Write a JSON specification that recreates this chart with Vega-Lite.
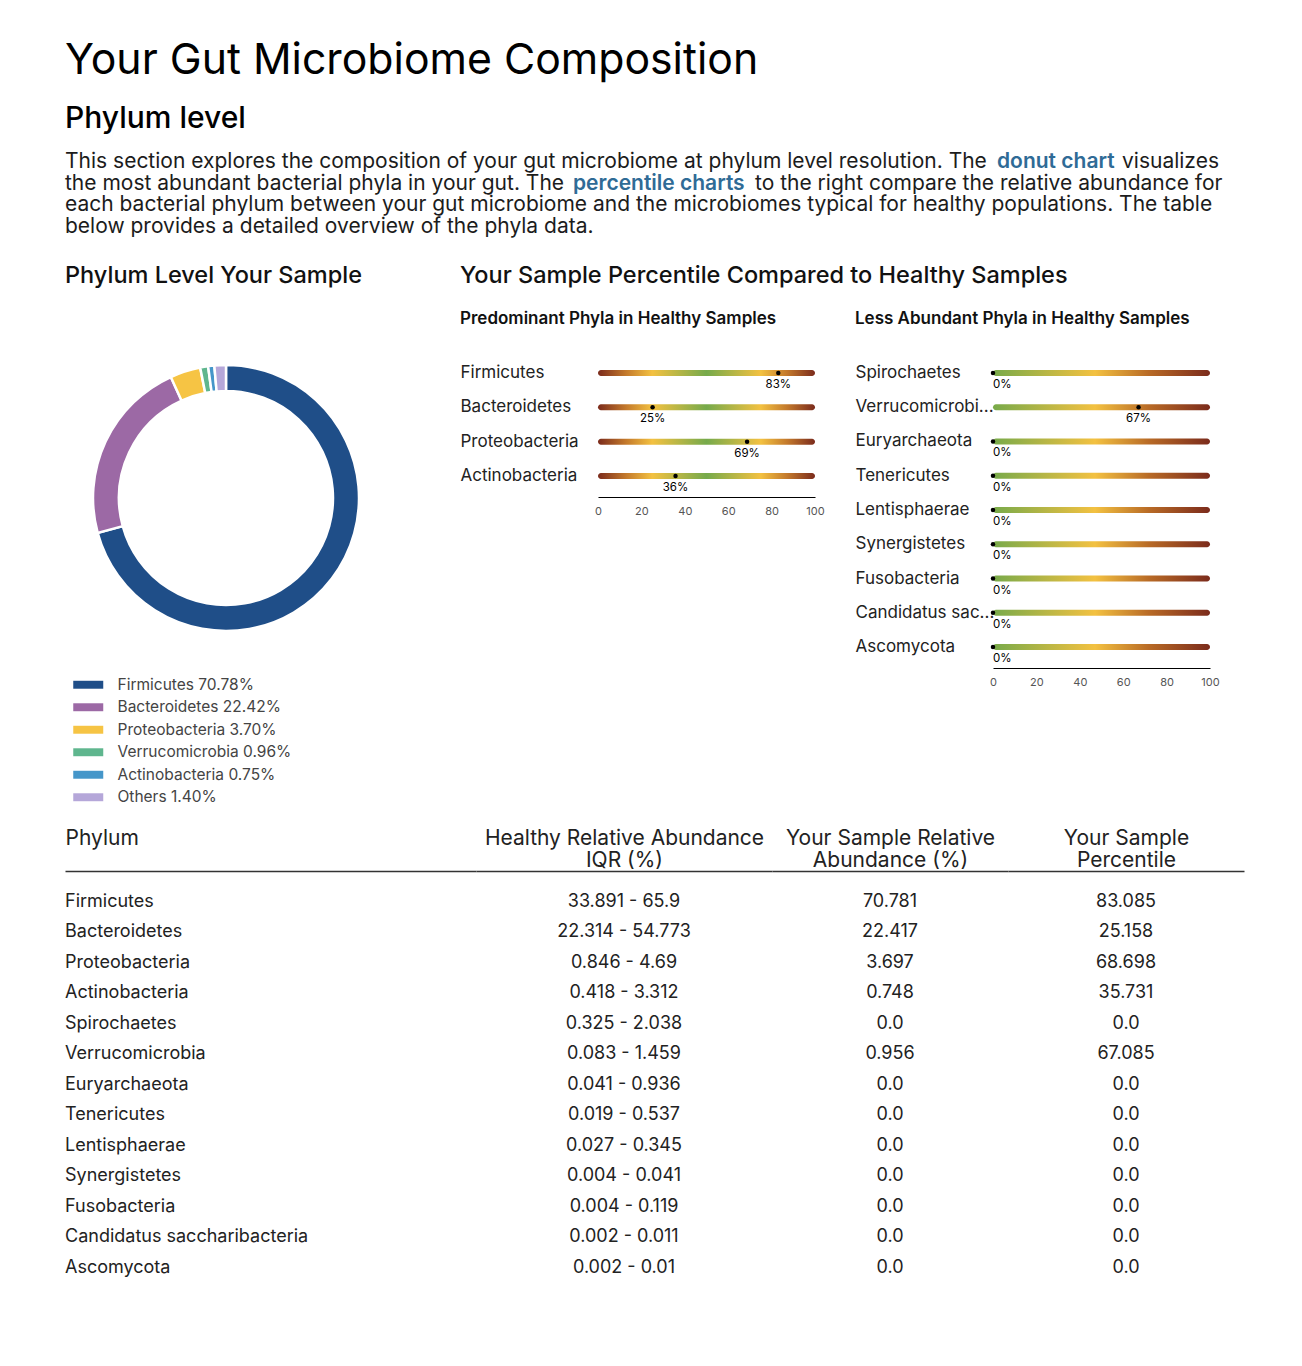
{
  "$schema": "https://vega.github.io/schema/vega-lite/v6.json",
  "background": "white",
  "padding": {"left": 65, "top": 40, "right": 20, "bottom": 20},
  "title": {
    "text": "Your Gut Microbiome Composition",
    "subtitle": "Phylum level",
    "anchor": "start",
    "frame": "bounds",
    "fontSize": 42.75,
    "fontWeight": 400,
    "color": "#000000",
    "subtitleFontSize": 30,
    "subtitleFontWeight": 500,
    "subtitleColor": "#000000",
    "subtitlePadding": 21,
    "offset": 17
  },
  "datasets": {
    "paragraph": [
      {"line": 1, "part": "a", "text": "This section explores the composition of your gut microbiome at phylum level resolution. The"},
      {"line": 1, "part": "b", "text": "donut chart"},
      {"line": 1, "part": "c", "text": "visualizes"},
      {"line": 2, "part": "a", "text": "the most abundant bacterial phyla in your gut. The"},
      {"line": 2, "part": "b", "text": "percentile charts"},
      {"line": 2, "part": "c", "text": "to the right compare the relative abundance for"},
      {"line": 3, "part": "a", "text": "each bacterial phylum between your gut microbiome and the microbiomes typical for healthy populations. The table"},
      {"line": 4, "part": "a", "text": "below provides a detailed overview of the phyla data."}
    ],
    "composition": [
      {"phylum": "Firmicutes", "share": 70.78, "label": "Firmicutes 70.78%"},
      {"phylum": "Bacteroidetes", "share": 22.42, "label": "Bacteroidetes 22.42%"},
      {"phylum": "Proteobacteria", "share": 3.70, "label": "Proteobacteria 3.70%"},
      {"phylum": "Verrucomicrobia", "share": 0.96, "label": "Verrucomicrobia 0.96%"},
      {"phylum": "Actinobacteria", "share": 0.75, "label": "Actinobacteria 0.75%"},
      {"phylum": "Others", "share": 1.40, "label": "Others 1.40%"}
    ],
    "predominant": [
      {"phylum": "Firmicutes", "pct": 83.085},
      {"phylum": "Bacteroidetes", "pct": 25.158},
      {"phylum": "Proteobacteria", "pct": 68.698},
      {"phylum": "Actinobacteria", "pct": 35.731}
    ],
    "less": [
      {"phylum": "Spirochaetes", "pct": 0},
      {"phylum": "Verrucomicrobia", "pct": 67.085},
      {"phylum": "Euryarchaeota", "pct": 0},
      {"phylum": "Tenericutes", "pct": 0},
      {"phylum": "Lentisphaerae", "pct": 0},
      {"phylum": "Synergistetes", "pct": 0},
      {"phylum": "Fusobacteria", "pct": 0},
      {"phylum": "Candidatus saccharibacteria", "pct": 0},
      {"phylum": "Ascomycota", "pct": 0}
    ],
    "table": [
      {"Phylum": "Firmicutes", "IQR": "33.891 - 65.9", "Abundance": "70.781", "Percentile": "83.085"},
      {"Phylum": "Bacteroidetes", "IQR": "22.314 - 54.773", "Abundance": "22.417", "Percentile": "25.158"},
      {"Phylum": "Proteobacteria", "IQR": "0.846 - 4.69", "Abundance": "3.697", "Percentile": "68.698"},
      {"Phylum": "Actinobacteria", "IQR": "0.418 - 3.312", "Abundance": "0.748", "Percentile": "35.731"},
      {"Phylum": "Spirochaetes", "IQR": "0.325 - 2.038", "Abundance": "0.0", "Percentile": "0.0"},
      {"Phylum": "Verrucomicrobia", "IQR": "0.083 - 1.459", "Abundance": "0.956", "Percentile": "67.085"},
      {"Phylum": "Euryarchaeota", "IQR": "0.041 - 0.936", "Abundance": "0.0", "Percentile": "0.0"},
      {"Phylum": "Tenericutes", "IQR": "0.019 - 0.537", "Abundance": "0.0", "Percentile": "0.0"},
      {"Phylum": "Lentisphaerae", "IQR": "0.027 - 0.345", "Abundance": "0.0", "Percentile": "0.0"},
      {"Phylum": "Synergistetes", "IQR": "0.004 - 0.041", "Abundance": "0.0", "Percentile": "0.0"},
      {"Phylum": "Fusobacteria", "IQR": "0.004 - 0.119", "Abundance": "0.0", "Percentile": "0.0"},
      {"Phylum": "Candidatus saccharibacteria", "IQR": "0.002 - 0.011", "Abundance": "0.0", "Percentile": "0.0"},
      {"Phylum": "Ascomycota", "IQR": "0.002 - 0.01", "Abundance": "0.0", "Percentile": "0.0"}
    ]
  },
  "spacing": 21,
  "resolve": {"scale": {"color": "independent"}, "legend": {"color": "independent"}},
  "vconcat": [
    {
      "width": 1170,
      "height": 79.5,
      "data": {"name": "paragraph"},
      "encoding": {
        "y": {"field": "line", "type": "ordinal", "scale": {"type": "point", "padding": 0.334, "align": 0}, "axis": null}
      },
      "layer": [
        {
          "transform": [{"filter": "datum.part == 'a'"}],
          "mark": {"type": "text", "align": "left", "baseline": "middle", "fontSize": 21, "color": "#1c1c1c", "x": 0},
          "encoding": {"text": {"field": "text"}}
        },
        {
          "transform": [{"filter": "datum.line == 1 && datum.part == 'b'"}],
          "mark": {"type": "text", "align": "left", "baseline": "middle", "fontSize": 21, "fontWeight": 600, "color": "#2f6b96", "x": 932},
          "encoding": {"text": {"field": "text"}}
        },
        {
          "transform": [{"filter": "datum.line == 1 && datum.part == 'c'"}],
          "mark": {"type": "text", "align": "left", "baseline": "middle", "fontSize": 21, "color": "#1c1c1c", "x": 1057},
          "encoding": {"text": {"field": "text"}}
        },
        {
          "transform": [{"filter": "datum.line == 2 && datum.part == 'b'"}],
          "mark": {"type": "text", "align": "left", "baseline": "middle", "fontSize": 21, "fontWeight": 600, "color": "#2f6b96", "x": 508},
          "encoding": {"text": {"field": "text"}}
        },
        {
          "transform": [{"filter": "datum.line == 2 && datum.part == 'c'"}],
          "mark": {"type": "text", "align": "left", "baseline": "middle", "fontSize": 21, "color": "#1c1c1c", "x": 690},
          "encoding": {"text": {"field": "text"}}
        }
      ]
    },
    {
      "spacing": 73,
      "resolve": {"scale": {"color": "independent"}, "legend": {"color": "independent"}},
      "hconcat": [
        {
          "title": {"text": "Phylum Level Your Sample", "anchor": "start", "frame": "bounds", "fontSize": 23.5, "fontWeight": 500, "offset": 65, "color": "#111111"},
          "width": 322,
          "height": 292,
          "data": {"name": "composition"},
          "transform": [{"window": [{"op": "row_number", "as": "idx"}]}],
          "mark": {"type": "arc", "radius": 133, "radius2": 107, "stroke": "#ffffff", "strokeWidth": 2.5},
          "encoding": {
            "theta": {"field": "share", "type": "quantitative", "stack": true},
            "order": {"field": "idx", "type": "quantitative"},
            "color": {
              "field": "label",
              "type": "nominal",
              "sort": null,
              "scale": {
                "domain": ["Firmicutes 70.78%", "Bacteroidetes 22.42%", "Proteobacteria 3.70%", "Verrucomicrobia 0.96%", "Actinobacteria 0.75%", "Others 1.40%"],
                "range": ["#1f4e88", "#9c69a5", "#f6c444", "#5fb68e", "#4596c9", "#b5a7d9"]
              },
              "legend": {
                "orient": "none",
                "legendX": 15.5,
                "legendY": 325,
                "direction": "vertical",
                "title": null,
                "symbolType": "M-2,-0.53H2V0.53H-2Z",
                "symbolSize": 225,
                "symbolStrokeWidth": 0,
                "symbolOpacity": 1,
                "labelFontSize": 15.5,
                "labelColor": "#444444",
                "labelOffset": 21.5,
                "rowPadding": 5.5,
                "padding": 0,
                "labelLimit": 300
              }
            }
          }
        },
        {
          "title": {"text": "Your Sample Percentile Compared to Healthy Samples", "anchor": "start", "frame": "bounds", "fontSize": 23.5, "fontWeight": 500, "offset": 23, "color": "#111111"},
          "spacing": 30,
          "hconcat": [
            {
              "title": {"text": "Predominant Phyla in Healthy Samples", "anchor": "start", "frame": "bounds", "fontSize": 17, "fontWeight": 600, "offset": 24, "color": "#111111"},
              "width": 217,
              "height": 145,
              "data": {"name": "predominant"},
              "encoding": {
                "y": {
                  "field": "phylum", "type": "nominal", "sort": null,
                  "scale": {"paddingInner": 0, "paddingOuter": 0.11},
                  "axis": {"title": null, "domain": false, "ticks": false, "tickSize": 0, "labelAlign": "left", "labelPadding": 138, "labelFontSize": 17, "labelColor": "#222222", "labelLimit": 0, "labelExpr": "length(datum.label) > 14 ? slice(datum.label, 0, 14) + '...' : datum.label"}
                }
              },
              "layer": [
                {
                  "mark": {
                    "type": "bar", "height": 6, "cornerRadius": 3,
                    "color": {
                      "gradient": "linear",
                      "stops": [
                        {"offset": 0, "color": "#7b2b1c"},
                        {"offset": 0.13, "color": "#c47a2c"},
                        {"offset": 0.25, "color": "#f3c141"},
                        {"offset": 0.5, "color": "#76aa4b"},
                        {"offset": 0.75, "color": "#f3c141"},
                        {"offset": 0.87, "color": "#c47a2c"},
                        {"offset": 1, "color": "#7b2b1c"}
                      ]
                    }
                  },
                  "encoding": {
                    "x": {
                      "datum": 0, "type": "quantitative",
                      "scale": {"domain": [0, 100], "nice": false},
                      "axis": {"title": null, "values": [0, 20, 40, 60, 80, 100], "ticks": false, "grid": false, "domainColor": "#000000", "domainWidth": 1.2, "labelFontSize": 11, "labelColor": "#555555", "labelPadding": 8, "labelFlush": false}
                    },
                    "x2": {"datum": 100}
                  }
                },
                {
                  "mark": {"type": "point", "filled": true, "color": "#000000", "size": 20, "opacity": 1},
                  "encoding": {"x": {"field": "pct", "type": "quantitative"}}
                },
                {
                  "transform": [{"filter": "datum.pct >= 5"}],
                  "mark": {"type": "text", "align": "center", "baseline": "middle", "dy": 12, "fontSize": 11.5, "color": "#000000", "text": {"expr": "format(datum.pct, '.0f') + '%'"}},
                  "encoding": {"x": {"field": "pct", "type": "quantitative"}}
                }
              ]
            },
            {
              "title": {"text": "Less Abundant Phyla in Healthy Samples", "anchor": "start", "frame": "bounds", "fontSize": 17, "fontWeight": 600, "offset": 24, "color": "#111111"},
              "width": 217,
              "height": 316,
              "data": {"name": "less"},
              "encoding": {
                "y": {
                  "field": "phylum", "type": "nominal", "sort": null,
                  "scale": {"paddingInner": 0, "paddingOuter": 0.11},
                  "axis": {"title": null, "domain": false, "ticks": false, "tickSize": 0, "labelAlign": "left", "labelPadding": 138, "labelFontSize": 17, "labelColor": "#222222", "labelLimit": 0, "labelExpr": "length(datum.label) > 14 ? slice(datum.label, 0, 14) + '...' : datum.label"}
                }
              },
              "layer": [
                {
                  "mark": {
                    "type": "bar", "height": 6, "cornerRadius": 3,
                    "color": {
                      "gradient": "linear",
                      "stops": [
                        {"offset": 0, "color": "#78aa4a"},
                        {"offset": 0.47, "color": "#f3c141"},
                        {"offset": 0.72, "color": "#b86a26"},
                        {"offset": 1, "color": "#7b2b1c"}
                      ]
                    }
                  },
                  "encoding": {
                    "x": {
                      "datum": 0, "type": "quantitative",
                      "scale": {"domain": [0, 100], "nice": false},
                      "axis": {"title": null, "values": [0, 20, 40, 60, 80, 100], "ticks": false, "grid": false, "domainColor": "#000000", "domainWidth": 1.2, "labelFontSize": 11, "labelColor": "#555555", "labelPadding": 8, "labelFlush": false}
                    },
                    "x2": {"datum": 100}
                  }
                },
                {
                  "mark": {"type": "point", "filled": true, "color": "#000000", "size": 20, "opacity": 1},
                  "encoding": {"x": {"field": "pct", "type": "quantitative"}}
                },
                {
                  "transform": [{"filter": "datum.pct >= 5"}],
                  "mark": {"type": "text", "align": "center", "baseline": "middle", "dy": 12, "fontSize": 11.5, "color": "#000000", "text": {"expr": "format(datum.pct, '.0f') + '%'"}},
                  "encoding": {"x": {"field": "pct", "type": "quantitative"}}
                },
                {
                  "transform": [{"filter": "datum.pct < 5"}],
                  "mark": {"type": "text", "align": "left", "baseline": "middle", "dy": 12, "fontSize": 11.5, "color": "#000000", "text": {"expr": "format(datum.pct, '.0f') + '%'"}},
                  "encoding": {"x": {"field": "pct", "type": "quantitative"}}
                }
              ]
            }
          ]
        }
      ]
    },
    {
      "spacing": 0,
      "hconcat": [
        {
          "width": 411,
          "height": 427,
          "data": {"name": "table"},
          "mark": {"type": "text", "fontSize": 18, "color": "#222222", "align": "left", "baseline": "middle"},
          "encoding": {
            "x": {"datum": "Phylum|", "type": "nominal", "scale": {"type": "point", "align": 0},
                  "axis": {"orient": "top", "title": null, "ticks": false, "tickSize": 0, "labelExpr": "split(datum.label, '|')", "labelAlign": "left", "labelFontSize": 21, "labelColor": "#222222", "labelLineHeight": 22, "labelPadding": 23, "labelLimit": 0, "labelAngle": 0, "domainColor": "#333333", "domainWidth": 1.5}},
            "y": {"field": "Phylum", "type": "nominal", "sort": null, "scale": {"type": "point", "padding": 1.019}, "axis": null},
            "text": {"field": "Phylum"}
          }
        },
        {
          "width": 296,
          "height": 427,
          "data": {"name": "table"},
          "mark": {"type": "text", "fontSize": 18, "color": "#222222", "align": "center", "baseline": "middle"},
          "encoding": {
            "x": {"datum": "Healthy Relative Abundance|IQR (%)", "type": "nominal", "scale": {"type": "point"},
                  "axis": {"orient": "top", "title": null, "ticks": false, "tickSize": 0, "labelExpr": "split(datum.label, '|')", "labelAlign": "center", "labelFontSize": 21, "labelColor": "#222222", "labelLineHeight": 22, "labelPadding": 23, "labelLimit": 0, "labelAngle": 0, "domainColor": "#333333", "domainWidth": 1.5}},
            "y": {"field": "Phylum", "type": "nominal", "sort": null, "scale": {"type": "point", "padding": 1.019}, "axis": null},
            "text": {"field": "IQR"}
          }
        },
        {
          "width": 236,
          "height": 427,
          "data": {"name": "table"},
          "mark": {"type": "text", "fontSize": 18, "color": "#222222", "align": "center", "baseline": "middle"},
          "encoding": {
            "x": {"datum": "Your Sample Relative|Abundance (%)", "type": "nominal", "scale": {"type": "point"},
                  "axis": {"orient": "top", "title": null, "ticks": false, "tickSize": 0, "labelExpr": "split(datum.label, '|')", "labelAlign": "center", "labelFontSize": 21, "labelColor": "#222222", "labelLineHeight": 22, "labelPadding": 23, "labelLimit": 0, "labelAngle": 0, "domainColor": "#333333", "domainWidth": 1.5}},
            "y": {"field": "Phylum", "type": "nominal", "sort": null, "scale": {"type": "point", "padding": 1.019}, "axis": null},
            "text": {"field": "Abundance"}
          }
        },
        {
          "width": 236,
          "height": 427,
          "data": {"name": "table"},
          "mark": {"type": "text", "fontSize": 18, "color": "#222222", "align": "center", "baseline": "middle"},
          "encoding": {
            "x": {"datum": "Your Sample|Percentile", "type": "nominal", "scale": {"type": "point"},
                  "axis": {"orient": "top", "title": null, "ticks": false, "tickSize": 0, "labelExpr": "split(datum.label, '|')", "labelAlign": "center", "labelFontSize": 21, "labelColor": "#222222", "labelLineHeight": 22, "labelPadding": 23, "labelLimit": 0, "labelAngle": 0, "domainColor": "#333333", "domainWidth": 1.5}},
            "y": {"field": "Phylum", "type": "nominal", "sort": null, "scale": {"type": "point", "padding": 1.019}, "axis": null},
            "text": {"field": "Percentile"}
          }
        }
      ]
    }
  ],
  "config": {
    "font": "Inter",
    "view": {"stroke": null},
    "axis": {"labelFont": "Inter"},
    "legend": {"labelFont": "Inter"},
    "title": {"font": "Inter", "subtitleFont": "Inter"},
    "text": {"font": "Inter"}
  }
}
